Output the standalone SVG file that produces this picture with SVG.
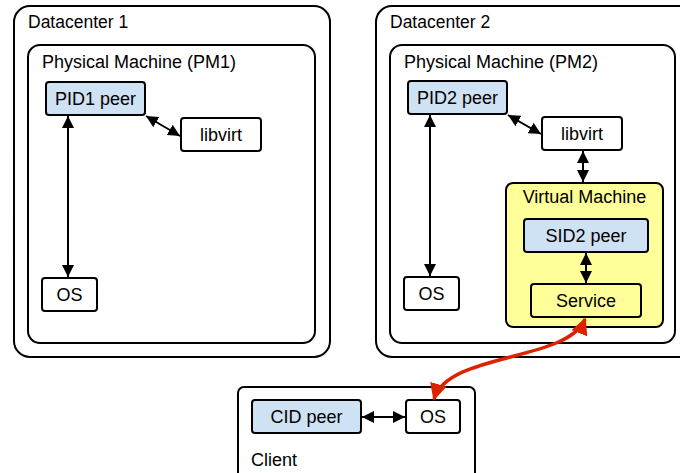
<svg xmlns="http://www.w3.org/2000/svg" width="680" height="473" viewBox="0 0 680 473">
<defs>
<style>
text{font-family:"Liberation Sans",Arial,sans-serif;font-size:18px;fill:#000}
.dc{font-size:17.5px}
.c{text-anchor:middle}
.box{fill:#fff;stroke:#000;stroke-width:2}
.peer{fill:#cfe2f3;stroke:#000;stroke-width:2}
.vm{fill:#ffff99;stroke:#000;stroke-width:2}
.svc{fill:#ffff99;stroke:#000;stroke-width:2}
.a{stroke:#000;stroke-width:2;fill:none;marker-start:url(#ah);marker-end:url(#ah)}
.r{stroke:#dd2200;stroke-width:3.5;fill:none;marker-start:url(#rh);marker-end:url(#rh)}
</style>
<marker id="ah" viewBox="0 0 10 10" refX="10" refY="5" markerWidth="12" markerHeight="12" markerUnits="userSpaceOnUse" orient="auto-start-reverse"><path d="M0,0L10,5L0,10z" fill="#000"/></marker>
<marker id="rh" viewBox="0 0 10 10" refX="9" refY="5" markerWidth="17" markerHeight="17" markerUnits="userSpaceOnUse" orient="auto-start-reverse"><path d="M0,0L10,5L0,10z" fill="#dd2200"/></marker>
</defs>
<g id="dc1">
<rect class="box" x="14" y="6" width="316" height="351" rx="16"/>
<text class="dc" x="28" y="28">Datacenter 1</text>
</g>
<g id="pm1">
<rect class="box" x="28" y="45" width="287" height="298" rx="12"/>
<text x="42" y="68">Physical Machine (PM1)</text>
</g>
<g id="pid1"><rect class="peer" x="46" y="82" width="99" height="33" rx="3"/><text class="c" x="95.5" y="105">PID1 peer</text></g>
<g id="libvirt1"><rect class="box" x="181" y="118" width="80" height="33" rx="3"/><text class="c" x="221" y="141">libvirt</text></g>
<g id="os1"><rect class="box" x="42" y="278" width="55" height="33" rx="3"/><text class="c" x="69.5" y="301">OS</text></g>
<g id="dc2">
<rect class="box" x="376" y="6" width="320" height="351" rx="16"/>
<text class="dc" x="390" y="28">Datacenter 2</text>
</g>
<g id="pm2">
<rect class="box" x="390" y="45" width="285" height="298" rx="12"/>
<text x="404" y="68">Physical Machine (PM2)</text>
</g>
<g id="pid2"><rect class="peer" x="408" y="81" width="99" height="33" rx="3"/><text class="c" x="457.5" y="104">PID2 peer</text></g>
<g id="libvirt2"><rect class="box" x="542" y="117" width="80" height="33" rx="3"/><text class="c" x="582" y="140">libvirt</text></g>
<g id="os2"><rect class="box" x="404" y="277" width="55" height="33" rx="3"/><text class="c" x="431.5" y="300">OS</text></g>
<g id="vm"><rect class="vm" x="506" y="183" width="157" height="144" rx="7"/><text class="c" x="584.5" y="203">Virtual Machine</text></g>
<g id="sid2"><rect class="peer" x="524" y="219" width="124" height="33" rx="3"/><text class="c" x="586" y="242">SID2 peer</text></g>
<g id="service"><rect class="svc" x="531" y="284" width="110" height="33" rx="3"/><text class="c" x="586" y="307">Service</text></g>
<g id="client">
<rect class="box" x="238" y="387" width="237" height="96" rx="6"/>
<text x="251" y="466">Client</text>
</g>
<g id="cid"><rect class="peer" x="252" y="400" width="109" height="33" rx="3"/><text class="c" x="306.5" y="423">CID peer</text></g>
<g id="os3"><rect class="box" x="406" y="400" width="54" height="33" rx="3"/><text class="c" x="433" y="423">OS</text></g>
<g id="connectors">
<line class="a" x1="68" y1="116" x2="68" y2="277"/>
<line class="a" x1="146" y1="116" x2="180" y2="136"/>
<line class="a" x1="430" y1="115" x2="430" y2="276"/>
<line class="a" x1="508" y1="115" x2="541" y2="134"/>
<line class="a" x1="583" y1="151" x2="583" y2="182"/>
<line class="a" x1="586" y1="253" x2="586" y2="283"/>
<line class="a" x1="362" y1="417" x2="405" y2="417"/>
<path class="r" d="M585,319 C568,362 448,352 434,399"/>
</g>
</svg>
